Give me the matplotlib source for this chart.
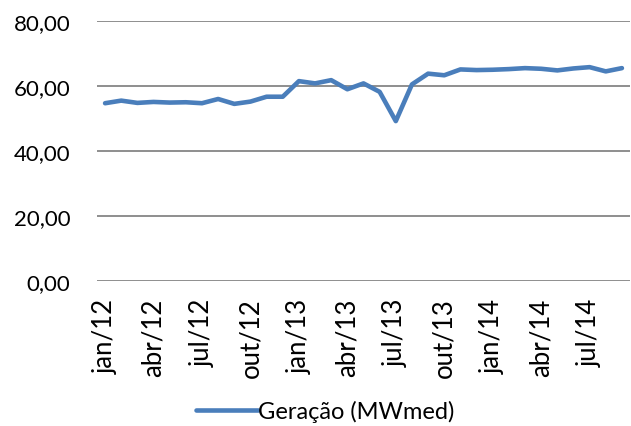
import matplotlib
matplotlib.use("Agg")
import matplotlib.pyplot as plt
from matplotlib.ticker import FuncFormatter

months = ["jan", "fev", "mar", "abr", "mai", "jun", "jul", "ago", "set", "out", "nov", "dez"]
labels = [f"{m}/{y}" for y in (12, 13, 14) for m in months][:33]

geracao = [54.7, 55.5, 54.8, 55.1, 54.9, 55.0, 54.7, 56.0, 54.5, 55.2, 56.7, 56.7,
           61.5, 60.8, 61.8, 59.0, 60.8, 58.2, 49.2, 60.5, 63.8, 63.3, 65.1, 64.9,
           65.0, 65.2, 65.5, 65.3, 64.8, 65.4, 65.8, 64.5, 65.5]

plt.rcParams["font.family"] = ["Lato", "DejaVu Sans"]

fig = plt.figure(figsize=(6.31, 4.27), dpi=100)
ax = fig.add_axes([97 / 631, 1 - 282 / 427, 533 / 631, 260 / 427])

x = list(range(len(geracao)))
ax.plot(x, geracao, color="#4A7EBB", lw=3.3, solid_capstyle="round",
        solid_joinstyle="round", label="Geração (MWmed)")

ax.set_xlim(-0.5, len(geracao) - 0.5)
ax.set_ylim(0, 80)
ax.set_yticks([0, 20, 40, 60, 80])
ax.yaxis.set_major_formatter(FuncFormatter(lambda v, p: f"{v:.2f}".replace(".", ",")))
ax.grid(axis="y", color="#868686", lw=1.3)
ax.set_axisbelow(True)
for s in ax.spines.values():
    s.set_visible(False)

ax.set_xticks(x[::3])
ax.set_xticklabels(labels[::3], rotation=90)
ax.tick_params(axis="both", length=0, colors="black")
ax.tick_params(axis="x", pad=12, labelsize=18.5)
ax.tick_params(axis="y", pad=19, labelsize=16)

fig.legend(loc="center", bbox_to_anchor=(325 / 631, 1 - 412 / 427), frameon=False,
           fontsize=17, handlelength=2.6, handletextpad=0.0)

fig.savefig("out.png", dpi=100)
